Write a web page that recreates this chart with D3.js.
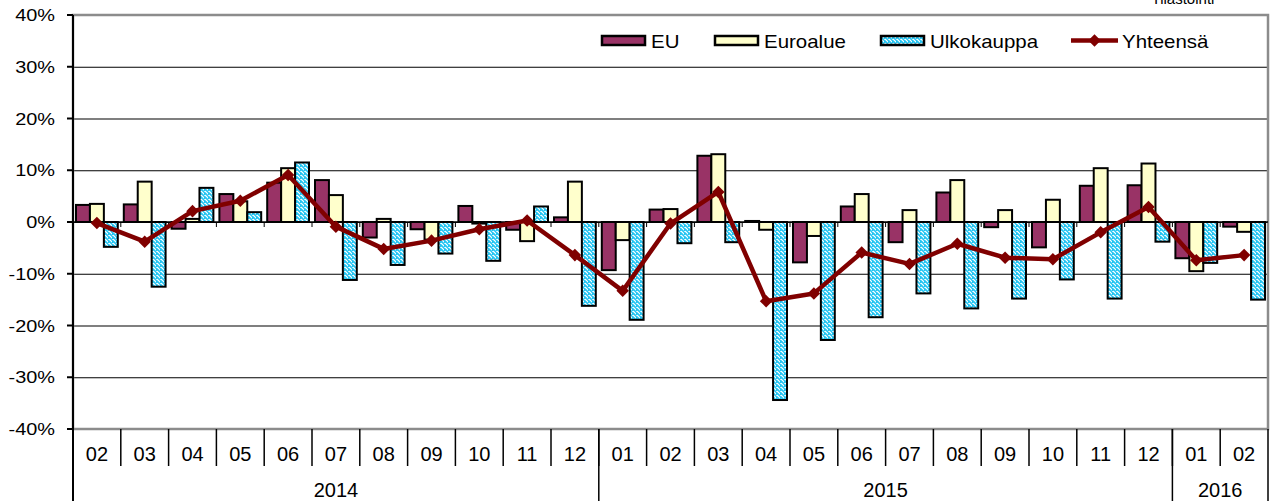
<!DOCTYPE html>
<html>
<head>
<meta charset="utf-8">
<script src="https://cdn.jsdelivr.net/npm/d3@7"></script>
<style>
  body { margin: 0; background: #fff; }
  text { font-family: Arial, "Liberation Sans", sans-serif; fill: #000; }
</style>
</head>
<body>
<script>
// kuukaudet ja vuodet
var months = ["02","03","04","05","06","07","08","09","10","11","12",
              "01","02","03","04","05","06","07","08","09","10","11","12",
              "01","02"]
var years = ["2014", "2015", "2016"]
var yearCounts = [11, 12, 2]

// sarjat, muutos %
var eu   = [3.3, 3.4, -1.3, 5.4, 7.6, 8.1, -3.0, -1.4, 3.1, -1.5, 0.9,
            -9.3, 2.4, 12.8, 0.2, -7.8, 3.0, -3.9, 5.7, -1.0, -4.9, 7.0, 7.1,
            -7.0, -0.9]
var euro = [3.5, 7.8, 0.6, 4.0, 10.4, 5.2, 0.6, -3.4, -0.3, -3.7, 7.8,
            -3.5, 2.5, 13.1, -1.5, -2.7, 5.4, 2.3, 8.1, 2.3, 4.3, 10.4, 11.3,
            -9.5, -1.9]
var ulko = [-4.8, -12.5, 6.6, 1.9, 11.5, -11.2, -8.3, -6.1, -7.5, 3.0, -16.2,
            -18.9, -4.1, -3.9, -34.4, -22.8, -18.4, -13.8, -16.7, -14.8, -11.1, -14.8, -3.8,
            -7.9, -15.0]
var total = [-0.2, -3.8, 2.1, 4.1, 9.1, -0.9, -5.2, -3.6, -1.4, 0.3, -6.4,
             -13.3, -0.3, 5.8, -15.3, -13.8, -5.9, -8.1, -4.2, -6.9, -7.2, -2.0, 2.9,
             -7.4, -6.4]
var yTicks = [-40, -30, -20, -10, 0, 10, 20, 30, 40]

var seriesNames = ["EU", "Euroalue", "Ulkokauppa"]
var seriesData = [eu, euro, ulko]
var fills = ["#993366", "#FFFFCC", "url(#stripes)"]

var W = 1274, H = 501
var pL = 73, pR = 1268, pT = 15, pB = 429

var svg = d3.select("body").append("svg")
  .attr("width", W)
  .attr("height", H)

// raitakuvio ulkokaupalle
var pat = svg.append("defs").append("pattern")
  .attr("id", "stripes")
  .attr("patternUnits", "userSpaceOnUse")
  .attr("width", 4)
  .attr("height", 4)
pat.append("rect").attr("width", 4).attr("height", 4).attr("fill", "#ffffff")
pat.append("path")
  .attr("d", "M-1,1 l2,2 M0,0 l4,4 M3,-1 l2,2")
  .attr("stroke", "#22c4f2")
  .attr("stroke-width", 1.6)

var idx = d3.range(months.length)

var x = d3.scaleBand().domain(idx).range([pL, pR]).padding(0)
var xSub = d3.scaleBand().domain(d3.range(3)).range([3, x.bandwidth() - 3])
var y = d3.scaleLinear().domain([-40, 40]).range([pB, pT])

// vaakaviivat
svg.append("g")
  .selectAll("line")
  .data(yTicks.filter(function(d) { return d > -40 && d < 40 }))
  .enter()
  .append("line")
  .attr("x1", pL)
  .attr("x2", pR)
  .attr("y1", function(d) { return y(d) + 0.5 })
  .attr("y2", function(d) { return y(d) + 0.5 })
  .attr("stroke", "#000")
  .attr("stroke-width", 1.2)

// kehys
svg.append("rect")
  .attr("x", pL).attr("y", pT)
  .attr("width", pR - pL).attr("height", pB - pT)
  .attr("fill", "none")
  .attr("stroke", "#8c8c8c")
  .attr("stroke-width", 2.5)

// pylväät
seriesData.forEach(function(arr, s) {
  svg.append("g")
    .selectAll("rect")
    .data(arr)
    .enter()
    .append("rect")
    .attr("x", function(d, i) { return x(i) + xSub(s) })
    .attr("y", function(d) { return y(Math.max(0, d)) })
    .attr("width", xSub.bandwidth())
    .attr("height", function(d) { return Math.abs(y(d) - y(0)) })
    .attr("fill", fills[s])
    .attr("stroke", "#000")
    .attr("stroke-width", 2)
})

// nollaviiva ja pienet tikit
svg.append("line")
  .attr("x1", pL).attr("x2", pR)
  .attr("y1", y(0)).attr("y2", y(0))
  .attr("stroke", "#000").attr("stroke-width", 1.5)
svg.append("g")
  .selectAll("line")
  .data(idx.slice(1))
  .enter()
  .append("line")
  .attr("x1", function(i) { return x(i) })
  .attr("x2", function(i) { return x(i) })
  .attr("y1", y(0))
  .attr("y2", y(0) + 5)
  .attr("stroke", "#000")

// y-akseli
svg.append("line")
  .attr("x1", pL).attr("x2", pL)
  .attr("y1", pT).attr("y2", H)
  .attr("stroke", "#000").attr("stroke-width", 2)
var yl = svg.append("g")
yl.selectAll("line")
  .data(yTicks)
  .enter()
  .append("line")
  .attr("x1", pL - 6).attr("x2", pL)
  .attr("y1", function(d) { return y(d) }).attr("y2", function(d) { return y(d) })
  .attr("stroke", "#000").attr("stroke-width", 2)
yl.selectAll("text")
  .data(yTicks)
  .enter()
  .append("text")
  .attr("transform", function(d) { return "translate(55," + (y(d) + 6) + ") scale(1.17,1)" })
  .attr("text-anchor", "end")
  .style("font-size", "17px")
  .text(function(d) { return d + "%" })

// kuukausitikit ja -nimet
svg.append("g")
  .selectAll("line")
  .data(idx.slice(1))
  .enter()
  .append("line")
  .attr("x1", function(i) { return x(i) }).attr("x2", function(i) { return x(i) })
  .attr("y1", pB).attr("y2", 466)
  .attr("stroke", "#000").attr("stroke-width", 1.5)
svg.append("g")
  .selectAll("text")
  .data(months)
  .enter()
  .append("text")
  .attr("x", function(d, i) { return x(i) + x.bandwidth() / 2 })
  .attr("y", 461)
  .attr("text-anchor", "middle")
  .style("font-size", "20px")
  .text(function(d) { return d })

// vuodet
var starts = [0]
yearCounts.forEach(function(c, i) { starts.push(starts[i] + c) })
svg.append("g")
  .selectAll("line")
  .data(starts)
  .enter()
  .append("line")
  .attr("x1", function(s) { return s < months.length ? x(s) : pR })
  .attr("x2", function(s) { return s < months.length ? x(s) : pR })
  .attr("y1", pB).attr("y2", H)
  .attr("stroke", "#000").attr("stroke-width", 1.5)
svg.append("g")
  .selectAll("text")
  .data(years)
  .enter()
  .append("text")
  .attr("x", function(d, i) {
    var a = x(starts[i])
    var b = starts[i + 1] < months.length ? x(starts[i + 1]) : pR
    return (a + b) / 2
  })
  .attr("y", 497)
  .attr("text-anchor", "middle")
  .style("font-size", "20px")
  .text(function(d) { return d })

// yhteensä-viiva
var line = d3.line()
  .x(function(d, i) { return x(i) + x.bandwidth() / 2 })
  .y(function(d) { return y(d) })
svg.append("path")
  .datum(total)
  .attr("d", line)
  .attr("fill", "none")
  .attr("stroke", "#800000")
  .attr("stroke-width", 4.5)
  .attr("stroke-linejoin", "round")
svg.append("g")
  .selectAll("path")
  .data(total)
  .enter()
  .append("path")
  .attr("d", d3.symbol().type(d3.symbolDiamond2).size(100))
  .attr("transform", function(d, i) { return "translate(" + (x(i) + x.bandwidth() / 2) + "," + y(d) + ")" })
  .attr("fill", "#800000")

// selite
var leg = svg.append("g")
var legX = [602, 715, 881]
seriesNames.forEach(function(n, s) {
  leg.append("rect")
    .attr("x", legX[s]).attr("y", 36)
    .attr("width", 43).attr("height", 9)
    .attr("fill", fills[s])
    .attr("stroke", "#000").attr("stroke-width", 2.5)
  leg.append("text")
    .attr("transform", "translate(" + (legX[s] + 49) + ",47.5) scale(1.17,1)")
    .style("font-size", "17.5px")
    .text(n)
})
leg.append("line")
  .attr("x1", 1071).attr("x2", 1118)
  .attr("y1", 40.5).attr("y2", 40.5)
  .attr("stroke", "#800000").attr("stroke-width", 4.5)
leg.append("path")
  .attr("d", d3.symbol().type(d3.symbolDiamond2).size(100))
  .attr("transform", "translate(1094.5,40.5)")
  .attr("fill", "#800000")
leg.append("text")
  .attr("transform", "translate(1122,47.5) scale(1.17,1)")
  .style("font-size", "17.5px")
  .text("Yhteensä")

// leikkautunut lähdeteksti
svg.append("text")
  .attr("x", 1183).attr("y", 4)
  .attr("text-anchor", "middle")
  .style("font-size", "15px")
  .text("Tilastointi")
</script>
</body>
</html>
